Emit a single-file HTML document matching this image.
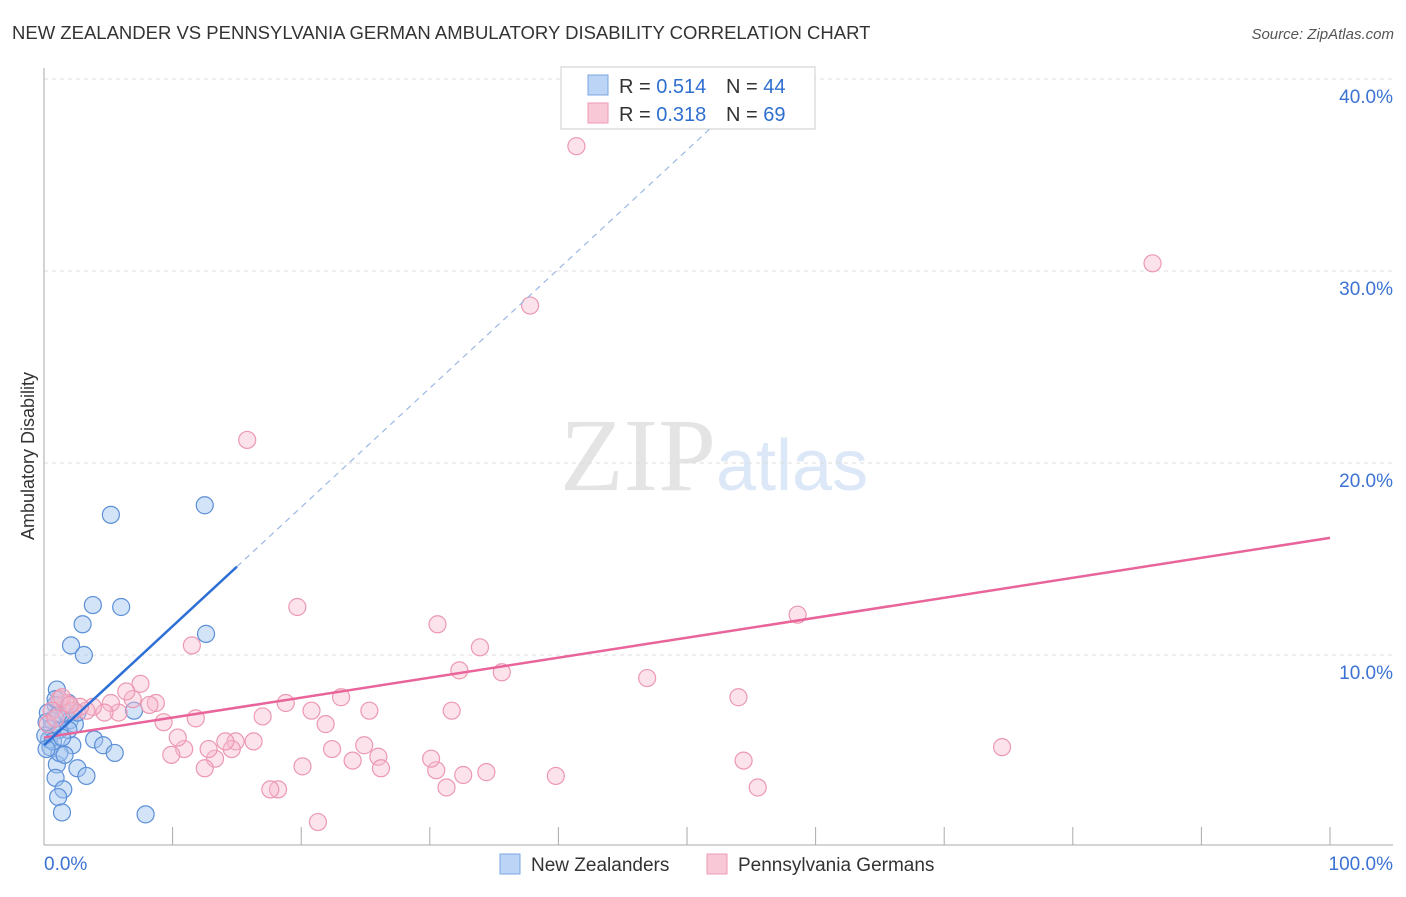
<!DOCTYPE html>
<html><head><meta charset="utf-8"><style>
body{margin:0;background:#fff;font-family:"Liberation Sans",sans-serif;}
</style></head><body>
<svg id="chart" width="1406" height="892" xmlns="http://www.w3.org/2000/svg">
<text x="12" y="39" font-size="18.5" fill="#333">NEW ZEALANDER VS PENNSYLVANIA GERMAN AMBULATORY DISABILITY CORRELATION CHART</text>
<text x="1394" y="39" font-size="15" fill="#555" font-style="italic" text-anchor="end">Source: ZipAtlas.com</text>
<text x="716" y="490" font-size="104" fill="#e4e4e4" text-anchor="end" font-family="Liberation Serif">ZIP</text>
<text x="716" y="490" font-size="72" fill="#dce8f7">atlas</text>
<g id="grid"></g>
<g id="axes"></g>
<g id="marks"></g>
<text transform="translate(34,456) rotate(-90)" font-size="18" fill="#333" text-anchor="middle">Ambulatory Disability</text>
<g>
<rect x="561" y="67" width="254" height="62" fill="#fff" stroke="#ccc"/>
<rect x="588" y="75" width="20" height="20" fill="#bcd4f5" stroke="#7aa6e0"/>
<rect x="588" y="103" width="20" height="20" fill="#f9c8d6" stroke="#ee9ab4"/>
<text x="619" y="93" font-size="20" fill="#333">R = <tspan fill="#2f6fd0">0.514</tspan><tspan x="726">N = </tspan><tspan fill="#2f6fd0">44</tspan></text>
<text x="619" y="121" font-size="20" fill="#333">R = <tspan fill="#2f6fd0">0.318</tspan><tspan x="726">N = </tspan><tspan fill="#2f6fd0">69</tspan></text>
</g>
<g>
<rect x="500" y="854" width="20" height="20" fill="#bcd4f5" stroke="#7aa6e0"/>
<text x="531" y="871" font-size="19" fill="#333">New Zealanders</text>
<rect x="707" y="854" width="20" height="20" fill="#f9c8d6" stroke="#ee9ab4"/>
<text x="738" y="871" font-size="19" fill="#333">Pennsylvania Germans</text>
</g>
</svg>
<script>
const yTicks=[10,20,30,40];
const yTickLabels=["10.0%","20.0%","30.0%","40.0%"];
const xTickLabels=["0.0%","100.0%"];
const nzX=[5.2,12.5,3.8,6.0,3.0,2.1,3.1,12.6,1.0,7.0,1.9,3.9,4.6,5.5,2.2,0.6,1.0,2.6,3.3,0.9,1.5,1.1,1.4,7.9,0.4,0.5,1.2,2.0,0.9,0.3,0.6,1.2,0.1,1.7,2.4,1.6,0.2,0.7,1.9,2.6,1.1,0.2,1.4,0.9];
const nzY=[17.3,17.8,12.6,12.5,11.6,10.5,10.0,11.1,8.2,7.1,7.5,5.6,5.3,4.9,5.3,6.6,4.3,4.1,3.7,3.6,3.0,2.6,1.8,1.7,5.6,5.2,6.1,6.6,7.4,7.0,6.2,4.9,5.8,7.0,6.4,4.8,6.5,5.5,6.1,7.0,6.9,5.1,5.7,7.7];
const pgX=[41.4,86.2,37.8,15.8,19.7,30.6,58.6,11.5,33.9,32.3,35.6,46.9,54.0,74.5,54.4,55.5,39.8,34.4,32.6,30.5,31.3,30.1,31.7,25.3,26.0,26.2,24.9,24.0,23.1,22.4,21.9,20.8,20.1,18.8,21.3,18.2,17.6,17.0,16.3,14.9,14.6,14.1,13.3,12.8,12.5,11.8,10.9,10.4,9.9,9.3,8.7,8.2,7.5,6.9,6.4,5.8,5.2,4.7,3.8,3.3,2.8,2.3,1.7,1.2,0.6,0.3,0.9,1.4,2.0];
const pgY=[36.5,30.4,28.2,21.2,12.5,11.6,12.1,10.5,10.4,9.2,9.1,8.8,7.8,5.2,4.5,3.1,3.7,3.9,3.75,4.0,3.1,4.6,7.1,7.1,4.7,4.1,5.3,4.5,7.8,5.1,6.4,7.1,4.2,7.5,1.3,3.0,3.0,6.8,5.5,5.5,5.1,5.5,4.6,5.1,4.1,6.7,5.1,5.7,4.8,6.5,7.5,7.4,8.5,7.7,8.1,7.0,7.5,7.0,7.3,7.1,7.3,7.1,7.5,7.7,7.1,6.4,6.7,7.8,7.4];
const nzTrend=[5.3,0.62];
const pgTrend=[5.7,0.104];
const NS="http://www.w3.org/2000/svg";
const X=v=>44+v*12.86, Y=v=>847-v*19.2;
function mk(tag,attrs,parent){const e=document.createElementNS(NS,tag);for(const k in attrs)e.setAttribute(k,attrs[k]);parent.appendChild(e);return e;}
const grid=document.getElementById('grid'),axes=document.getElementById('axes'),marks=document.getElementById('marks');
yTicks.forEach((t,i)=>{
 const l=mk('line',{x1:44,x2:1393,y1:Y(t),y2:Y(t),stroke:'#ddd','stroke-dasharray':'4,4'},grid);
 
 
 const tx=mk('text',{x:1393,y:Y(t)+24,'font-size':19,fill:'#3b72d4','text-anchor':'end'},axes);
 tx.textContent=yTickLabels[i];
 
 
});
mk('line',{x1:44,x2:44,y1:68,y2:845,stroke:'#aaa'},axes);
mk('line',{x1:44,x2:1393,y1:845,y2:845,stroke:'#aaa'},axes);
for(let i=1;i<=10;i++){mk('line',{x1:X(i*10),x2:X(i*10),y1:827,y2:845,stroke:'#aaa'},axes);}
const xl0=mk('text',{x:44,y:870,'font-size':19,fill:'#3b72d4'},axes);xl0.textContent=xTickLabels[0];


const xl1=mk('text',{x:1393,y:870,'font-size':19,fill:'#3b72d4','text-anchor':'end'},axes);xl1.textContent=xTickLabels[1];


nzX.forEach((x,i)=>{const c=mk('circle',{cx:X(x),cy:Y(nzY[i]),r:8.5,fill:'rgba(160,196,240,0.45)',stroke:'#5b8fd8','stroke-width':1.2},marks);
 
 });
pgX.forEach((x,i)=>{const c=mk('circle',{cx:X(x),cy:Y(pgY[i]),r:8.5,fill:'rgba(248,185,205,0.4)',stroke:'#ec98b2','stroke-width':1.2},marks);
 
 });
const pl=mk('line',{x1:X(0),y1:Y(pgTrend[0]),x2:X(100),y2:Y(pgTrend[0]+pgTrend[1]*100),stroke:'#e8649a','stroke-width':2.5},marks);


const bl=mk('line',{x1:X(0),y1:Y(nzTrend[0]),x2:X(15),y2:Y(nzTrend[0]+nzTrend[1]*15),stroke:'#2e6fd6','stroke-width':2.5},marks);


const bd=mk('line',{x1:X(15),y1:Y(nzTrend[0]+nzTrend[1]*15),x2:X(53.5),y2:Y(nzTrend[0]+nzTrend[1]*53.5),stroke:'#9bb8e4','stroke-width':1.2,'stroke-dasharray':'6,5'},marks);


</script>
</body></html>
